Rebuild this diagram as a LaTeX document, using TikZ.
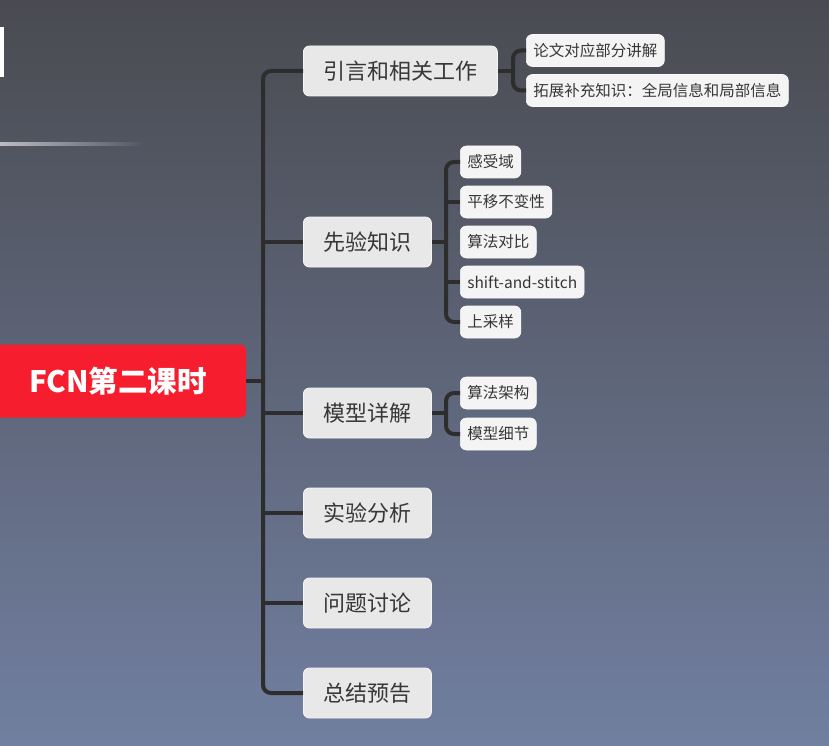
\documentclass[tikz,border=0pt]{standalone}
\usepackage{fontspec}
\newfontfamily\cjk{Noto Sans CJK SC}
\definecolor{bgtop}{RGB}{74,75,81}
\definecolor{bgmid}{RGB}{102,110,134}
\definecolor{bgbot}{RGB}{113,127,160}
\definecolor{bgline}{RGB}{86,89,101}
\definecolor{rootred}{RGB}{246,30,46}
\definecolor{linkcol}{RGB}{45,45,45}
\definecolor{lonefill}{RGB}{232,232,232}
\definecolor{ltwofill}{RGB}{244,244,244}
\definecolor{txtcol}{RGB}{55,55,55}
\tikzset{
  rootbox/.style={fill=rootred, rounded corners=6pt, minimum height=73pt, inner sep=0pt,
    text=white, font=\cjk\bfseries\fontsize{29.5}{33}\selectfont},
  lone/.style={draw=white!55!lonefill, line width=0.8pt, fill=lonefill, rounded corners=6pt,
    minimum height=50pt, inner sep=0pt, anchor=west, text=txtcol,
    font=\cjk\fontsize{22}{26}\selectfont},
  ltwo/.style={draw=white!50!ltwofill, line width=0.6pt, fill=ltwofill, rounded corners=6pt,
    minimum height=32pt, inner xsep=7pt, inner ysep=0pt, anchor=west, text=txtcol,
    font=\cjk\fontsize{15.5}{17}\selectfont},
  link/.style={draw=linkcol, line width=4pt, rounded corners=8pt}
}
\begin{document}
\begin{tikzpicture}[x=1pt,y=-1pt]
\useasboundingbox (0,0) rectangle (829,746);
\shade[top color=bgtop, middle color=bgmid, bottom color=bgbot] (0,0) rectangle (829,746);
\fill[white] (0,27) rectangle (4,77);
\shade[left color=white!60!bgline, right color=bgline] (0,143) rectangle (140,145.5);

% junctions
\coordinate (trunk) at (263,381);
\coordinate (b1) at (513,71);
\coordinate (b2) at (446,242);
\coordinate (b3) at (446,413);

% root
\node[rootbox, minimum width=256pt] (root) at (118,381) {FCN第二课时};

% level 1
\node[lone, minimum width=194pt] (n1) at (303,71) {引言和相关工作};
\node[lone, minimum width=128pt] (n2) at (303,242) {先验知识};
\node[lone, minimum width=128pt] (n3) at (303,413) {模型详解};
\node[lone, minimum width=128pt] (n4) at (303,513) {实验分析};
\node[lone, minimum width=128pt] (n5) at (303,603) {问题讨论};
\node[lone, minimum width=128pt] (n6) at (303,693) {总结预告};

% level 2
\node[ltwo] (s11) at (526,50.5) {论文对应部分讲解};
\node[ltwo] (s12) at (526,90.5) {拓展补充知识：全局信息和局部信息};
\node[ltwo] (s21) at (460,162) {感受域};
\node[ltwo] (s22) at (460,202) {平移不变性};
\node[ltwo] (s23) at (460,242) {算法对比};
\node[ltwo] (s24) at (460,282) {shift-and-stitch};
\node[ltwo] (s25) at (460,322) {上采样};
\node[ltwo] (s31) at (460,393) {算法架构};
\node[ltwo] (s32) at (460,434) {模型细节};

% connectors
\draw[link] (n1.west) -| (trunk) |- (n6.west);
\draw[link] (root.east) -- (trunk);
\draw[link] (trunk |- n2.west) -- (n2.west);
\draw[link] (trunk |- n3.west) -- (n3.west);
\draw[link] (trunk |- n4.west) -- (n4.west);
\draw[link] (trunk |- n5.west) -- (n5.west);

\draw[link] (s11.west) -| (b1) |- (s12.west);
\draw[link] (n1.east) -- (b1);

\draw[link] (s21.west) -| (b2) |- (s25.west);
\draw[link] (n2.east) -- (b2);
\draw[link] (b2 |- s22.west) -- (s22.west);
\draw[link] (b2 |- s24.west) -- (s24.west);

\draw[link] (s31.west) -| (b3) |- (s32.west);
\draw[link] (n3.east) -- (b3);
\end{tikzpicture}
\end{document}
